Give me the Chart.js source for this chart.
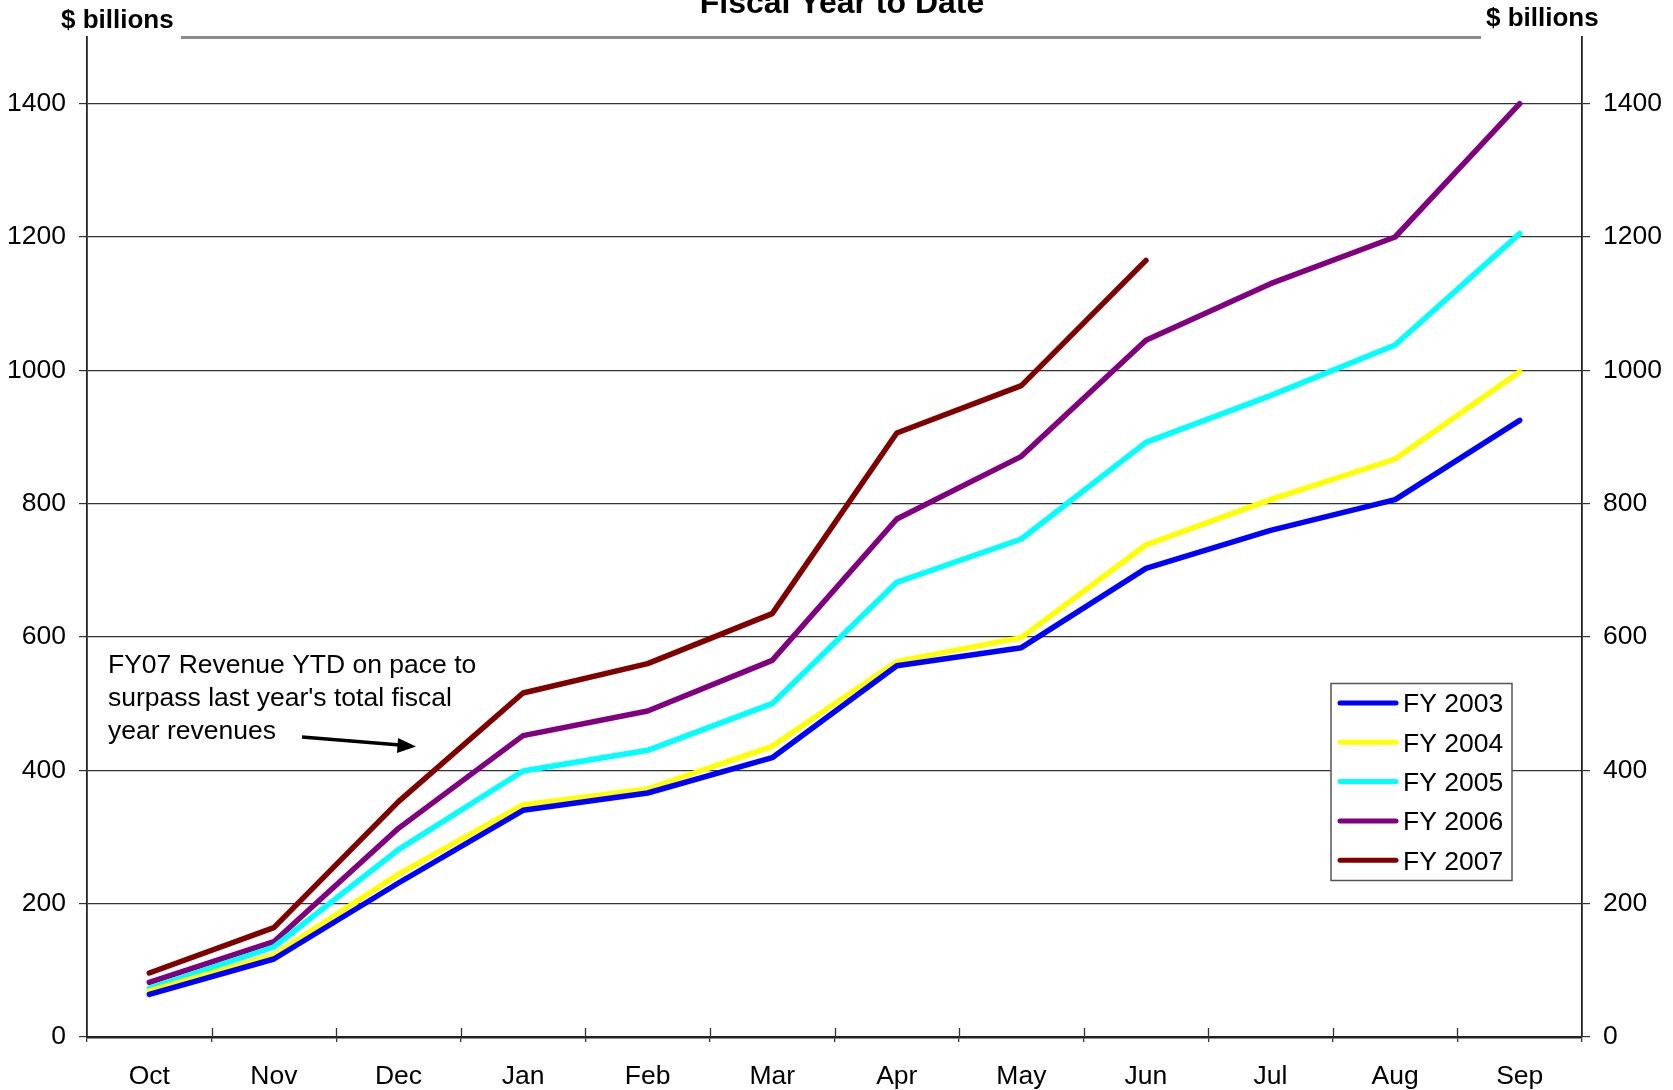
<!DOCTYPE html>
<html><head><meta charset="utf-8">
<script src="https://cdn.jsdelivr.net/npm/chart.js@4/dist/chart.umd.min.js"></script>
<style>html,body{margin:0;padding:0;background:#fff;overflow:hidden}</style>
</head><body>
<canvas id="c" width="1673" height="1090"></canvas>
<script>
const months = ["Oct","Nov","Dec","Jan","Feb","Mar","Apr","May","Jun","Jul","Aug","Sep"];
const fy2003 = [64, 117, 231, 340, 366, 419, 557, 584, 703, 760, 806, 925];
const fy2004 = [69, 123, 244, 348, 372, 436, 563, 599, 738, 806, 867, 998];
const fy2005 = [73, 135, 281, 399, 430, 500, 682, 747, 892, 962, 1038, 1205];
const fy2006 = [82, 143, 313, 452, 489, 565, 777, 871, 1045, 1130, 1200, 1400];
const fy2007 = [96, 164, 353, 516, 560, 635, 906, 977, 1165, null, null, null];
const seriesNames = ["FY 2003","FY 2004","FY 2005","FY 2006","FY 2007"];
const seriesColors = ["#0000FF","#FFFF00","#00FFFF","#800080","#800000"];
const yTickStep = 200;
const yMax = 1500;
const titleText = "Fiscal Year to Date";
const axisUnit = "$ billions";
const noteLines = ["FY07 Revenue YTD on pace to","surpass last year's total fiscal","year revenues"];

const FONT = "'Liberation Sans', Arial, sans-serif";
const allSeries = [fy2003, fy2004, fy2005, fy2006, fy2007];

const decor = {
  id: 'decor',
  beforeDatasetsDraw(chart) {
    const ctx = chart.ctx, xs = chart.scales.x, a = chart.chartArea;
    ctx.save();
    ctx.strokeStyle = '#333'; ctx.lineWidth = 1.3;
    for (let i = 1; i < months.length; i++) {
      const x = Math.round((xs.getPixelForValue(i - 1) + xs.getPixelForValue(i)) / 2) + 0.5;
      ctx.beginPath(); ctx.moveTo(x, a.bottom - 9); ctx.lineTo(x, a.bottom); ctx.stroke();
    }
    ctx.restore();
  },
  afterDraw(chart) {
    const ctx = chart.ctx;
    ctx.save();
    ctx.fillStyle = '#000';
    ctx.font = 'bold 32px ' + FONT;
    ctx.textAlign = 'center'; ctx.textBaseline = 'alphabetic';
    ctx.fillText(titleText, 842, 13);
    ctx.font = 'bold 26px ' + FONT;
    ctx.textAlign = 'left'; ctx.textBaseline = 'middle';
    ctx.fillText(axisUnit, 61, 21);
    ctx.fillText(axisUnit, 1486, 19);
    ctx.strokeStyle = '#8c8c8c'; ctx.lineWidth = 3;
    ctx.beginPath(); ctx.moveTo(181, 37.5); ctx.lineTo(1481, 37.5); ctx.stroke();
    ctx.font = '26.5px ' + FONT;
    ctx.fillStyle = '#000';
    noteLines.forEach((t, i) => ctx.fillText(t, 108, 666 + i * 33));
    ctx.strokeStyle = '#000'; ctx.lineWidth = 3.5;
    ctx.beginPath(); ctx.moveTo(302, 737); ctx.lineTo(400, 745); ctx.stroke();
    ctx.beginPath();
    ctx.moveTo(416, 746.5); ctx.lineTo(398, 738); ctx.lineTo(397, 753); ctx.closePath();
    ctx.fillStyle = '#000'; ctx.fill();
    const bx = 1331, by = 683.5, bw = 181, bh = 197;
    ctx.fillStyle = '#fff'; ctx.fillRect(bx, by, bw, bh);
    ctx.strokeStyle = '#555'; ctx.lineWidth = 1.5; ctx.strokeRect(bx, by, bw, bh);
    ctx.font = '26.5px ' + FONT; ctx.textBaseline = 'middle'; ctx.textAlign = 'left';
    chart.data.datasets.forEach((ds, i) => {
      const y = 705 + i * 39.3;
      ctx.strokeStyle = ds.borderColor; ctx.lineWidth = 5; ctx.lineCap = 'round';
      ctx.beginPath(); ctx.moveTo(1340, y - 2); ctx.lineTo(1396, y - 2); ctx.stroke();
      ctx.fillStyle = '#000';
      ctx.fillText(ds.label, 1403, y);
    });
    ctx.restore();
  }
};

const yTickFont = { family: FONT, size: 26.5 };

new Chart(document.getElementById('c'), {
  type: 'line',
  data: {
    labels: months,
    datasets: allSeries.map((d, i) => ({
      label: seriesNames[i], data: d, borderColor: seriesColors[i], backgroundColor: seriesColors[i],
      borderWidth: 5.5, pointRadius: 0, tension: 0, borderJoinStyle: 'round', borderCapStyle: 'round',
      spanGaps: false, yAxisID: 'y'
    }))
  },
  options: {
    responsive: false, animation: false, devicePixelRatio: 1,
    layout: { padding: { top: 37, left: 0, right: 0, bottom: 0 } },
    plugins: { legend: { display: false }, title: { display: false }, tooltip: { enabled: false } },
    scales: {
      x: {
        offset: true,
        grid: { offset: true, drawOnChartArea: false, tickLength: 5, color: '#333', lineWidth: 1.3 },
        border: { color: '#222', width: 2.5 },
        ticks: { font: { family: FONT, size: 26.5 }, color: '#000', padding: 19, maxRotation: 0, autoSkip: false },
        afterFit(s) { s.height = 53; }
      },
      y: {
        position: 'left', min: 0, max: yMax,
        ticks: { stepSize: yTickStep, font: yTickFont, color: '#000', padding: 13, callback: v => String(v) },
        afterBuildTicks(s) { s.ticks = s.ticks.filter(t => t.value % yTickStep === 0); },
        grid: { color: '#333', lineWidth: 1.2, tickLength: 8 },
        border: { color: '#222', width: 1.8 },
        afterFit(s) { s.width = 87; }
      },
      y2: {
        position: 'right', min: 0, max: yMax,
        ticks: { stepSize: yTickStep, font: yTickFont, color: '#000', padding: 13, callback: v => String(v) },
        afterBuildTicks(s) { s.ticks = s.ticks.filter(t => t.value % yTickStep === 0); },
        grid: { drawOnChartArea: false, color: '#333', lineWidth: 1.2, tickLength: 8 },
        border: { color: '#222', width: 1.8 },
        afterFit(s) { s.width = 91; }
      }
    }
  },
  plugins: [decor]
});
</script>
</body></html>
